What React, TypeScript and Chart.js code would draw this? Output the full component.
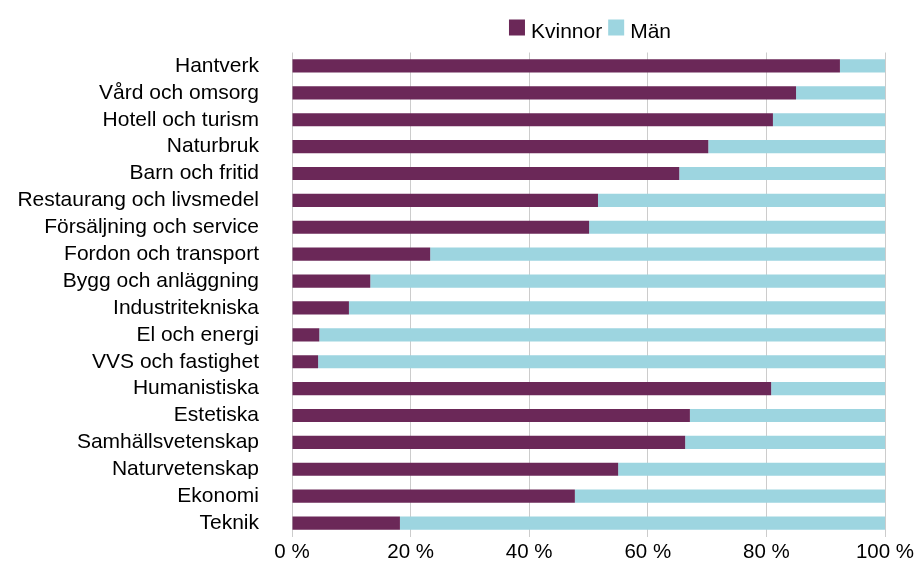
import React, { useEffect, useRef } from "react";
import { Chart, registerables } from "chart.js";

Chart.register(...registerables);

const categories = [
  "Hantverk",
  "Vård och omsorg",
  "Hotell och turism",
  "Naturbruk",
  "Barn och fritid",
  "Restaurang och livsmedel",
  "Försäljning och service",
  "Fordon och transport",
  "Bygg och anläggning",
  "Industritekniska",
  "El och energi",
  "VVS och fastighet",
  "Humanistiska",
  "Estetiska",
  "Samhällsvetenskap",
  "Naturvetenskap",
  "Ekonomi",
  "Teknik",
];

const kvinnor = [92.4, 85.0, 81.1, 70.2, 65.3, 51.6, 50.1, 23.3, 13.2, 9.6, 4.6, 4.4, 80.8, 67.1, 66.3, 55.0, 47.7, 18.2];
const man = kvinnor.map((v) => 100 - v);

const seriesNames = ["Kvinnor", "Män"];
const colors = ["#6B2858", "#9DD5E0"];
const xTicks = [0, 20, 40, 60, 80, 100];

const FONT = "'Liberation Sans', Arial, sans-serif";

const legendPlugin = {
  id: "customLegend",
  afterDraw(chart: any) {
    const { ctx, chartArea } = chart;
    ctx.save();
    ctx.font = `21px ${FONT}`;
    const box = 16;
    const gapText = 6;
    const gapItem = 6;
    const widths = seriesNames.map((n) => ctx.measureText(n).width);
    const total = widths.reduce((a, w) => a + box + gapText + w, 0) + gapItem * (seriesNames.length - 1);
    let x = (chartArea.left + chartArea.right) / 2 + 1.5 - total / 2;
    const baseline = 37.5;
    seriesNames.forEach((n, i) => {
      ctx.fillStyle = colors[i];
      ctx.fillRect(x, 19.5, box, box);
      x += box + gapText;
      ctx.fillStyle = "#000";
      ctx.textBaseline = "alphabetic";
      ctx.textAlign = "left";
      ctx.fillText(n, x, baseline);
      x += widths[i] + gapItem;
    });
    ctx.restore();
  },
};

export default function App() {
  const ref = useRef<HTMLCanvasElement>(null);
  useEffect(() => {
    document.body.style.margin = "0";
    const chart = new Chart(ref.current!, {
      type: "bar",
      data: {
        labels: categories,
        datasets: [
          { label: seriesNames[0], data: kvinnor, backgroundColor: colors[0], barPercentage: 0.49, categoryPercentage: 1 },
          { label: seriesNames[1], data: man, backgroundColor: colors[1], barPercentage: 0.49, categoryPercentage: 1 },
        ],
      },
      options: {
        indexAxis: "y",
        animation: false,
        responsive: false,
        maintainAspectRatio: false,
        layout: { padding: { top: 52.5, right: 31, left: 0, bottom: 0 } },
        plugins: { legend: { display: false }, tooltip: { enabled: false } },
        scales: {
          x: {
            stacked: true,
            min: 0,
            max: 100,
            afterBuildTicks: (s: any) => {
              s.ticks = xTicks.map((v) => ({ value: v }));
            },
            afterFit: (s: any) => {
              s.height = 24.5;
              s.paddingLeft = 0;
              s.paddingRight = 0;
            },
            grid: { color: "#cccccc", lineWidth: 1, drawTicks: false },
            border: { display: false },
            ticks: {
              padding: 4,
              color: "#000",
              font: { family: FONT, size: 20.5 },
              callback: (v: any) => `${v} %`,
              maxRotation: 0,
            },
          },
          y: {
            stacked: true,
            afterFit: (s: any) => {
              s.width = 292;
              s.paddingTop = 0;
              s.paddingBottom = 0;
            },
            grid: { display: false, drawTicks: false },
            border: { display: false },
            ticks: {
              padding: 33,
              color: "#000",
              font: { family: FONT, size: 21 },
              autoSkip: false,
            },
          },
        },
      },
      plugins: [legendPlugin],
    });
    return () => chart.destroy();
  }, []);
  return (
    <div style={{ width: 916, height: 561 }}>
      <canvas ref={ref} width={916} height={561} style={{ display: "block" }} />
    </div>
  );
}
